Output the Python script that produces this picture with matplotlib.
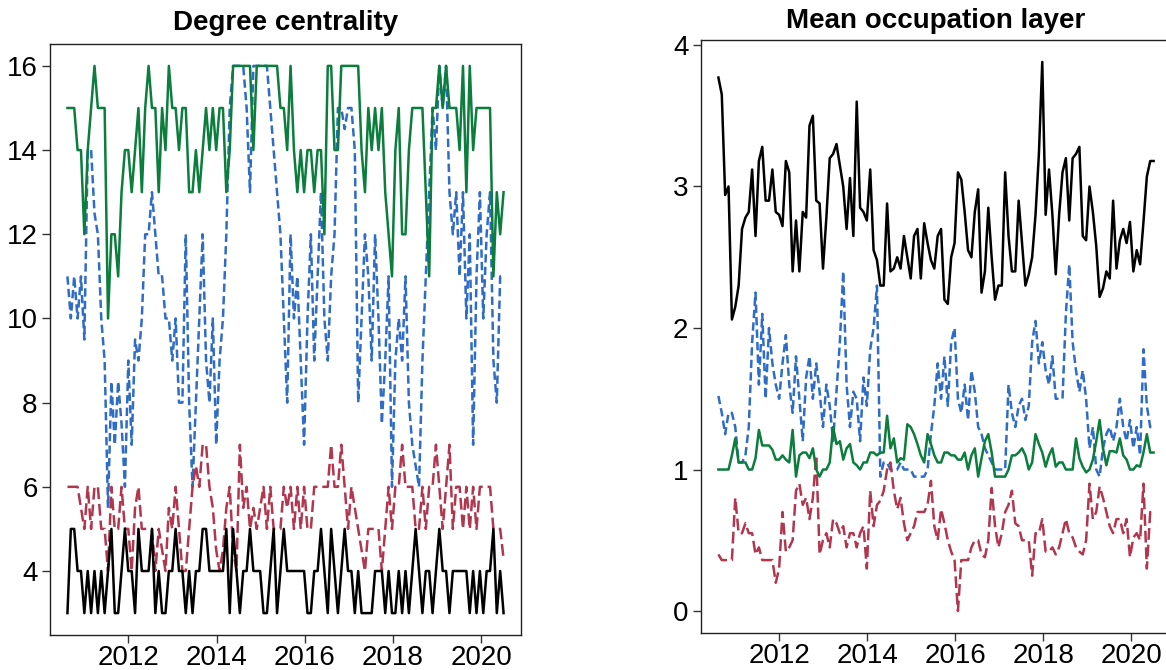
import matplotlib
matplotlib.use("Agg")
import matplotlib.pyplot as plt
import matplotlib.dates as mdates
import pandas as pd

plt.rcParams['font.family'] = ['Liberation Sans', 'DejaVu Sans']
plt.rcParams['lines.scale_dashes'] = False

# ---- time axis (4-weekly observations) ----
start_date = "2010-08-15"
n_obs = 130
freq = "28D"

# ---- Degree centrality (left panel) ----
deg_black = [3,5,5,4,4,3,4,3,4,3,4,3,4,5,3,3,4,5,4,4,3,5,4,4,4,5,3,4,3,3,
             4,4,5,4,4,3,4,3,4,4,5,5,4,4,4,4,4,5,3,5,4,3,4,4,5,4,4,4,3,3,
             4,5,3,4,5,4,4,4,4,4,4,3,3,4,4,5,4,3,5,4,3,4,5,4,4,3,4,3,3,3,
             3,4,4,4,3,4,3,3,4,3,4,3,4,5,4,3,4,4,3,4,5,4,4,3,4,4,4,4,4,3,
             4,3,4,3,4,4,5,3,4,3]
deg_green = [15,15,15,14,14,12,14,15,16,15,15,15,10,12,12,11,13,14,14,13,
             14,15,13,15,16,15,15,13,15,14,16,15,15,14,15,15,13,13,14,13,
             14,15,14,15,14,15,15,13,14,16,16,16,16,16,16,14,16,16,16,16,
             16,16,16,15,15,14,16,14,13,14,13,14,14,13,14,14,12,16,16,14,
             14,16,16,16,16,16,16,14,13,15,14,15,14,15,13,12,11,14,15,12,
             12,14,15,15,15,15,13,11,15,15,16,15,16,15,15,15,14,16,13,16,
             14,15,15,15,15,15,11,13,12,13]
deg_blue = [11,10,11,10,11,9.5,14,14,12.5,12,10,9,5.5,8.5,7,8.5,7.5,6,9,7,
            9.5,9,10,12,12,13,12,11,11,10,10,9,10,8,8,12,8,6,8,10,
            12,9,8,10,7,9,10,12,15,16,16,16,16,15,13,16,16,16,16,16,
            15,14,13,12,10,8,12,10,11,9,7,10,12,9,11,13,10,9,11,12,
            15,15,14.5,15,15,14,8,10,12,11,9,12,10,7.5,9,11,6,9,10,9,
            11,8,7,6.5,6,9,11,13,15,14,16,15,16,13,12,13,11,13,10,12,
            7,11,13,10,12,13,9,8,11,11]
deg_red = [6,6,6,6,5.5,5,6,5,6,6,5,5,4,6,5,5,6,5,5,4,
           5.5,6,5,5,5,5,4,5,4.5,4,5.5,5,6,5,4,4,5,6,6.5,6,
           7,7,6,5.5,4.5,4,4.5,5.5,6,4.5,4,7,5.5,6,5,5.5,5,5.5,6,5,
           6,5,5,5,6,5.5,6,5,6,5,6,5,5,6,6,6,6,6,7,6,
           6,7,6,5,6,5.5,5,4.5,4,5,5,5,5,4,5,6,5,6,6,7,
           6,6,6,5,5,6,5,6,6,7,6,5,6,7,5,6,6,5,6,5,
           6,5,6,6,6,6,5,5,5,4.3]

# ---- Mean occupation layer (right panel) ----
occ_black = [3.77,3.65,2.94,3.0,2.06,2.15,2.3,2.7,2.78,2.82,3.12,2.65,3.18,3.28,2.9,
             2.9,3.12,2.82,2.8,2.72,3.18,3.1,2.4,2.76,2.4,2.82,2.78,3.43,3.5,2.9,
             2.88,2.42,2.78,3.2,3.23,3.3,3.15,3.0,2.7,3.06,2.65,3.6,2.85,2.82,2.76,
             3.12,2.55,2.48,2.3,2.3,2.88,2.4,2.42,2.5,2.42,2.65,2.5,2.35,2.65,2.7,
             2.35,2.74,2.6,2.48,2.42,2.65,2.7,2.2,2.17,2.5,2.6,3.1,3.05,2.82,2.55,
             2.5,2.82,2.98,2.25,2.4,2.85,2.5,2.2,2.3,2.3,3.1,2.65,2.4,2.4,2.9,
             2.6,2.3,2.38,2.5,2.8,3.23,3.88,2.8,3.12,2.8,2.38,2.8,3.1,3.2,2.76,
             3.2,3.23,3.28,2.65,2.62,3.0,2.82,2.58,2.22,2.28,2.4,2.35,2.9,2.42,2.62,
             2.7,2.6,2.75,2.4,2.55,2.45,2.75,3.07,3.18,3.18]
occ_blue = [1.52,1.4,1.25,1.4,1.4,1.3,1.05,1.05,1.1,1.3,1.9,2.25,1.6,2.1,1.5,
            2.0,1.75,1.6,1.5,1.75,1.95,1.6,1.4,1.8,1.5,1.2,1.65,1.8,1.5,1.75,
            1.55,1.3,1.6,1.45,1.2,1.55,1.9,2.4,1.6,1.3,1.55,1.5,1.2,1.65,1.45,
            1.85,2.0,2.3,0.95,1.05,1.05,1.0,1.0,1.0,1.05,1.0,1.0,1.0,0.95,0.95,
            0.95,0.95,1.0,1.25,1.45,1.75,1.5,1.8,1.45,1.9,2.0,1.5,1.4,1.6,1.35,
            1.7,1.55,1.3,1.25,1.15,1.1,1.05,1.0,1.0,1.0,1.0,1.6,1.4,1.3,1.45,
            1.5,1.35,1.45,1.9,2.05,1.75,1.9,1.7,1.6,1.8,1.5,1.5,1.5,2.1,2.45,
            1.9,1.7,1.55,1.7,1.5,1.15,1.3,1.0,0.95,1.15,1.25,1.3,1.2,1.3,1.5,
            1.3,1.2,1.35,1.15,1.3,1.1,1.85,1.45,1.3,1.3]
occ_green = [1.0,1.0,1.0,1.0,1.1,1.22,1.05,1.05,1.05,1.0,1.0,1.08,1.28,1.17,1.17,
             1.17,1.14,1.07,1.07,1.1,1.07,1.05,1.28,0.95,1.1,1.12,1.12,1.08,1.15,1.0,
             0.95,1.0,1.0,1.05,1.3,1.18,1.2,1.07,1.15,1.18,1.05,1.03,1.0,1.05,1.05,
             1.12,1.12,1.1,1.12,1.12,1.38,1.15,1.22,1.05,1.08,1.07,1.32,1.3,1.25,1.18,
             1.1,1.05,1.25,1.18,1.1,1.05,1.05,1.12,1.12,1.1,1.1,1.07,1.07,1.12,1.0,
             1.1,1.15,0.95,1.08,1.2,1.25,1.12,0.95,0.95,0.95,0.95,1.0,1.1,1.1,1.12,
             1.15,1.1,1.0,1.05,1.25,1.18,1.12,1.02,1.1,1.15,1.02,1.05,1.05,1.0,1.0,
             1.0,1.22,1.08,1.02,0.98,1.0,1.07,1.2,1.35,1.15,1.03,1.13,1.13,1.12,1.22,
             1.1,1.07,1.0,1.0,1.03,1.02,1.12,1.25,1.12,1.12]
occ_red = [0.4,0.36,0.36,0.36,0.36,0.8,0.55,0.55,0.62,0.55,0.55,0.4,0.45,0.36,0.36,
           0.36,0.36,0.2,0.3,0.7,0.42,0.45,0.5,0.85,0.9,0.75,0.8,0.65,0.8,1.1,
           0.4,0.5,0.55,0.45,0.65,0.62,0.55,0.6,0.45,0.55,0.55,0.45,0.55,0.6,0.3,
           0.85,0.6,0.75,0.78,0.85,1.0,1.05,0.85,0.72,0.8,0.62,0.5,0.55,0.6,0.7,
           0.7,0.7,0.75,0.92,0.6,0.5,0.72,0.62,0.5,0.42,0.36,0.0,0.36,0.36,0.36,
           0.45,0.5,0.5,0.4,0.38,0.5,0.87,0.6,0.45,0.55,0.7,0.75,0.85,0.62,0.6,
           0.5,0.5,0.5,0.25,0.55,0.55,0.65,0.42,0.42,0.45,0.4,0.45,0.55,0.65,0.55,
           0.52,0.45,0.42,0.4,0.5,0.9,0.65,0.7,0.88,0.8,0.7,0.6,0.55,0.65,0.65,
           0.55,0.65,0.38,0.52,0.55,0.5,0.9,0.3,0.7,0.68]

dates = pd.date_range(start_date, periods=n_obs, freq=freq)

C_BLACK = "#000000"
C_GREEN = "#0b7d3c"
C_BLUE = "#2f6cc6"
C_RED = "#b0374f"
LW = 1.8
BLUE_DASH = (0, (6, 3))
RED_DASH = (0, (8.5, 3.5))

W, H = 1166, 670
fig = plt.figure(figsize=(W / 100, H / 100), dpi=100)

axL = fig.add_axes([50 / W, (H - 635) / H, 471 / W, 591 / H])
axR = fig.add_axes([701 / W, (H - 633) / H, 470 / W, 593 / H])

# Left panel
axL.plot(dates, deg_blue, color=C_BLUE, lw=LW, linestyle=BLUE_DASH)
axL.plot(dates, deg_red, color=C_RED, lw=LW, linestyle=RED_DASH)
axL.plot(dates, deg_green, color=C_GREEN, lw=LW)
axL.plot(dates, deg_black, color=C_BLACK, lw=LW)
axL.set_yticks([4, 6, 8, 10, 12, 14, 16])
axL.set_title("Degree centrality", fontsize=20, fontweight="bold", pad=10)

# Right panel
axR.plot(dates, occ_blue, color=C_BLUE, lw=LW, linestyle=BLUE_DASH)
axR.plot(dates, occ_red, color=C_RED, lw=LW, linestyle=RED_DASH)
axR.plot(dates, occ_green, color=C_GREEN, lw=LW)
axR.plot(dates, occ_black, color=C_BLACK, lw=LW)
axR.set_yticks([0, 1, 2, 3, 4])
axR.set_title("Mean occupation layer", fontsize=20, fontweight="bold", pad=9)

for ax in (axL, axR):
    ax.margins(x=0.04, y=0.04)
    ax.xaxis.set_major_locator(mdates.YearLocator(2))
    ax.xaxis.set_major_formatter(mdates.DateFormatter("%Y"))
    ax.tick_params(axis="both", direction="out", length=6, width=1,
                   labelsize=20, color="#333333", pad=3)
    ax.tick_params(axis="x", pad=1)
    for s in ax.spines.values():
        s.set_linewidth(1)
        s.set_color("#222222")

fig.savefig("out.png", dpi=100)
